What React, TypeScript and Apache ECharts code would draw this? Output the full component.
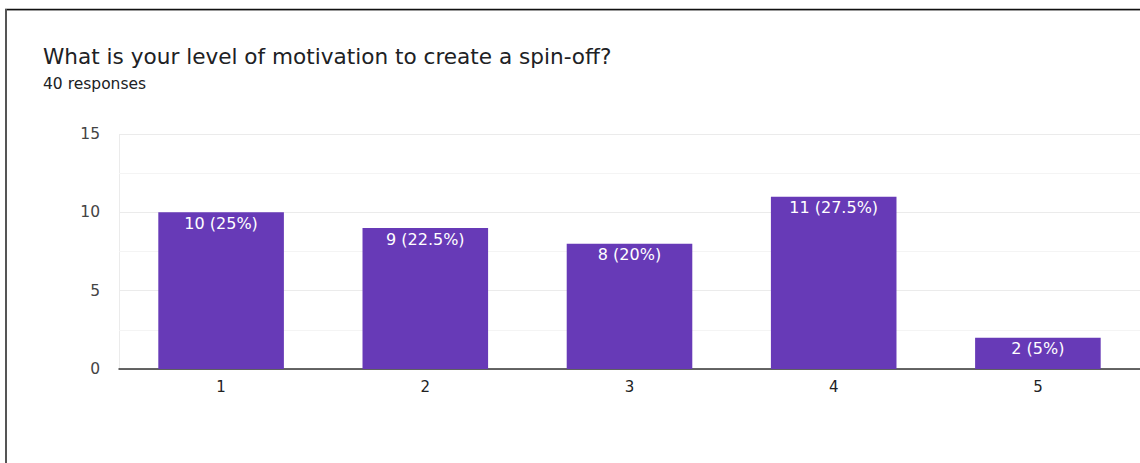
import React, { useEffect, useRef } from "react";
import * as echarts from "echarts";

const categories = ["1", "2", "3", "4", "5"];
const counts = [10, 9, 8, 11, 2];
const percents = ["25%", "22.5%", "20%", "27.5%", "5%"];
const titleText = "What is your level of motivation to create a spin-off?";
const subtitleText = "40 responses";

export default function App() {
  const ref = useRef<HTMLDivElement>(null);
  useEffect(() => {
    if (!ref.current) return;
    const chart = echarts.init(ref.current, undefined, { renderer: "svg" });
    const font = "DejaVu Sans, Verdana, sans-serif";
    chart.setOption({
      animation: false,
      backgroundColor: "#ffffff",
      title: {
        text: titleText,
        subtext: subtitleText,
        left: 38,
        top: 40,
        itemGap: 9,
        textStyle: { fontFamily: font, fontSize: 21.6, fontWeight: "normal", color: "#202124" },
        subtextStyle: { fontFamily: font, fontSize: 15.5, color: "#202124" },
      },
      grid: { left: 119, right: 0, top: 134, bottom: 94, containLabel: false },
      xAxis: {
        type: "category",
        data: categories,
        axisLine: { show: true, lineStyle: { color: "#333333", width: 1.5 } },
        axisTick: { show: false },
        axisLabel: { fontFamily: font, fontSize: 15, color: "#222222", margin: 10 },
      },
      yAxis: {
        type: "value",
        min: 0,
        max: 15,
        interval: 5,
        axisLine: { show: false },
        axisTick: { show: false },
        axisLabel: { fontFamily: font, fontSize: 15.5, color: "#444444", margin: 19 },
        splitLine: { show: true, lineStyle: { color: "#ebebeb", width: 1 } },
        minorTick: { show: false, splitNumber: 2 },
        minorSplitLine: { show: true, lineStyle: { color: "#f4f4f4", width: 1 } },
      },
      series: [
        {
          type: "bar",
          data: counts,
          barWidth: "61.5%",
          itemStyle: { color: "#673ab7" },
          label: {
            show: true,
            position: "insideTop",
            distance: 3,
            color: "#ffffff",
            fontFamily: font,
            fontSize: 16,
            formatter: (p: any) => `${counts[p.dataIndex]} (${percents[p.dataIndex]})`,
          },
        },
      ],
      graphic: [
        { type: "line", shape: { x1: 119.5, y1: 134, x2: 119.5, y2: 369 }, style: { stroke: "#ebebeb", lineWidth: 1 }, z: 0 },
        { type: "line", shape: { x1: 5, y1: 9.5, x2: 1140, y2: 9.5 }, style: { stroke: "#111111", lineWidth: 1.5 } },
        { type: "line", shape: { x1: 5, y1: 10.5, x2: 1140, y2: 10.5 }, style: { stroke: "#999999", lineWidth: 1 } },
        { type: "line", shape: { x1: 6, y1: 9, x2: 6, y2: 463 }, style: { stroke: "#555555", lineWidth: 2 } },
      ],
    });
    return () => chart.dispose();
  }, []);
  return (
    <div
      ref={ref}
      style={{ position: "fixed", left: 0, top: 0, width: 1140, height: 463, background: "#fff" }}
    />
  );
}
